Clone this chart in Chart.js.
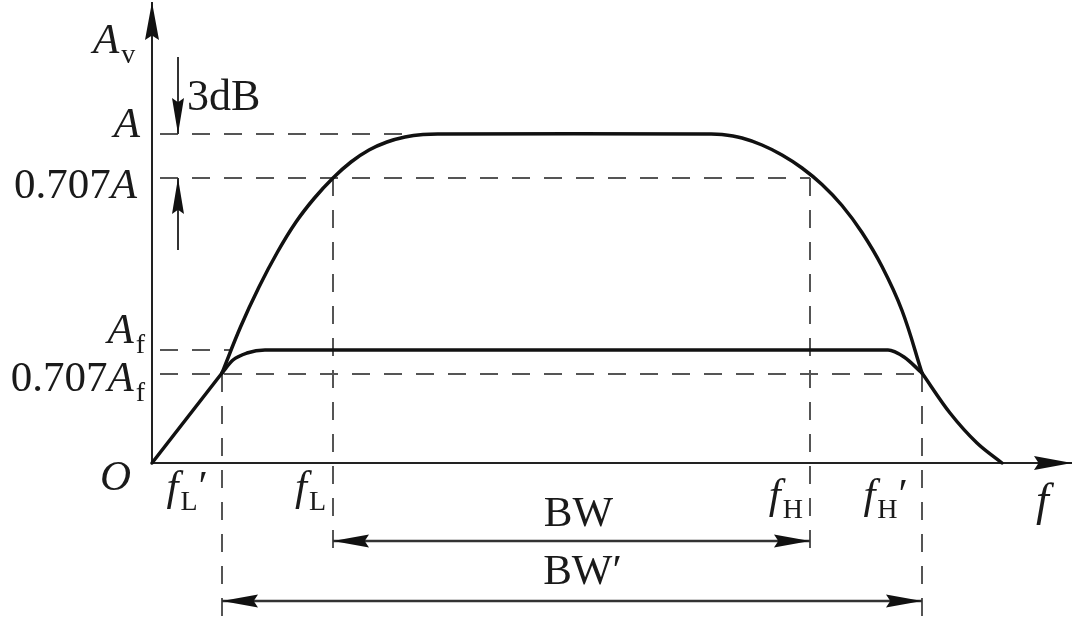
<!DOCTYPE html>
<html>
<head>
<meta charset="utf-8">
<script src="https://cdn.jsdelivr.net/npm/chart.js@4.4.0/dist/chart.umd.min.js"></script>
<style>
  html, body { margin: 0; padding: 0; background: #fff; }
</style>
</head>
<body>
<canvas id="chart" width="1080" height="622"></canvas>
<script>
// open-loop response (A)
const bigX = [70, 88.5, 107, 125.5, 144, 162.5, 181, 199, 217, 235, 253, 271, 289, 555, 570, 590, 610, 630, 650, 670, 690, 710, 730, 750, 770];
const bigY = [90, 136, 176, 211, 241, 265, 285, 301, 313, 321, 326, 328.5, 329, 329, 328.5, 325, 318, 308, 295, 278.5, 257.5, 230.5, 196.5, 152.5, 90];
// closed-loop response (Af), shares the two skirts with the open-loop curve
const baseX = [0, 70];
const baseY = [0, 90];
const smallX = [70, 81, 95, 113, 736, 752, 770];
const smallY = [90, 103, 110, 113, 113, 106, 90];
const tailX = [770, 798, 825, 850];
const tailY = [90, 50, 20, 0];

// gain levels and where their dashed guide ends
const levelLabels = ['A', '0.707A', 'A_f', '0.707A_f'];
const levelY = [329, 285, 113, 89];
const levelEndX = [250, 658, 78, 770];

// corner frequencies
const freqLabels = ['f_L′', 'f_L', 'f_H', 'f_H′'];
const freqX = [70, 181, 658, 770];
const freqTopY = [89, 285, 285, 89];
const freqBottomY = [-155, -96, -96, -155];

// bandwidth dimension lines
const bwLabels = ['BW', 'BW′'];
const bwFrom = [181, 70];
const bwTo = [658, 770];
const bwY = [-78, -138];

const SERIF = '"Liberation Serif", "DejaVu Serif", serif';

function pts(xs, ys) {
    return xs.map((x, i) => ({ x: x, y: ys[i] }));
}

function curve(xs, ys, mode) {
    return {
        data: pts(xs, ys),
        showLine: true,
        borderColor: '#111',
        borderWidth: 3.5,
        pointRadius: 0,
        tension: mode ? 0.4 : 0,
        cubicInterpolationMode: mode === 'monotone' ? 'monotone' : 'default',
        borderCapStyle: 'round',
        borderJoinStyle: 'round'
    };
}

function guide(a, b) {
    return {
        data: [a, b],
        showLine: true,
        borderColor: '#555',
        borderWidth: 2,
        borderDash: [18, 14],
        pointRadius: 0,
        tension: 0
    };
}

const datasets = [
    curve(bigX, bigY, 'spline'),
    curve(smallX, smallY, 'monotone'),
    curve(tailX, tailY, 'monotone'),
    curve(baseX, baseY, null)
];
levelY.forEach((v, i) => datasets.push(guide({ x: 8, y: v }, { x: levelEndX[i], y: v })));
freqX.forEach((f, i) => datasets.push(guide({ x: f, y: freqTopY[i] }, { x: f, y: freqBottomY[i] })));

// text like "0.707A_f" : letters italic, after "_" roman subscript
function parts(str, roman, size) {
    const out = [];
    let sub = false;
    for (const ch of str) {
        if (ch === '_') { sub = true; continue; }
        if (ch === '′') { sub = false; out.push({ t: ch, font: size + 'px ' + SERIF, dy: 0 }); continue; }
        if (sub) {
            out.push({ t: ch, font: Math.round(size * 0.64) + 'px ' + SERIF, dy: 10, pad: 1 });
        } else {
            const it = !roman && /[A-Za-z]/.test(ch);
            out.push({ t: ch, font: (it ? 'italic ' : '') + size + 'px ' + SERIF, dy: 0, pad: it ? 2 : 0 });
        }
    }
    return out;
}

function drawText(ctx, str, px, py, align, roman, size) {
    const ps = parts(str, roman, size || 43);
    let w = 0;
    ps.forEach(p => { ctx.font = p.font; p.w = ctx.measureText(p.t).width + (p.pad || 0); w += p.w; });
    let cx = align === 'right' ? px - w : align === 'center' ? px - w / 2 : px;
    ctx.textAlign = 'left';
    ctx.textBaseline = 'alphabetic';
    ps.forEach(p => { ctx.font = p.font; ctx.fillText(p.t, cx, py + p.dy); cx += p.w; });
}

function head(ctx, tx, ty, dx, dy, len, half) {
    const bx = tx - dx * len, by = ty - dy * len;
    ctx.beginPath();
    ctx.moveTo(tx, ty);
    ctx.lineTo(bx - dy * half, by + dx * half);
    ctx.lineTo(bx + dx * len * 0.12, by + dy * len * 0.12);
    ctx.lineTo(bx + dy * half, by - dx * half);
    ctx.closePath();
    ctx.fill();
}

function arrowLine(ctx, x1, y1, x2, y2, both, len, half) {
    ctx.beginPath();
    ctx.moveTo(x1, y1);
    ctx.lineTo(x2, y2);
    ctx.stroke();
    const L = Math.hypot(x2 - x1, y2 - y1);
    const dx = (x2 - x1) / L, dy = (y2 - y1) / L;
    head(ctx, x2, y2, dx, dy, len || 34, half || 6);
    if (both) head(ctx, x1, y1, -dx, -dy, len || 34, half || 6);
}

const diagram = {
    id: 'diagram',
    beforeDatasetsDraw(chart) {
        const { ctx, scales: { x, y } } = chart;
        const ox = x.getPixelForValue(0), oy = y.getPixelForValue(0);
        ctx.save();
        ctx.strokeStyle = '#222';
        ctx.fillStyle = '#111';
        ctx.lineWidth = 2;
        arrowLine(ctx, ox, oy, x.getPixelForValue(920), oy, false, 38, 7);
        arrowLine(ctx, ox, oy, ox, y.getPixelForValue(461), false, 38, 7);
        ctx.restore();
    },
    afterDraw(chart) {
        const { ctx, scales: { x, y } } = chart;
        ctx.save();
        ctx.fillStyle = '#111';
        ctx.strokeStyle = '#333';
        ctx.lineWidth = 2;

        // 3 dB drop markers
        const ax = x.getPixelForValue(26);
        arrowLine(ctx, ax, y.getPixelForValue(406), ax, y.getPixelForValue(levelY[0]), false, 36, 6);
        arrowLine(ctx, ax, y.getPixelForValue(213), ax, y.getPixelForValue(levelY[1]), false, 36, 6);

        // bandwidth arrows
        ctx.lineWidth = 2.5;
        bwY.forEach((v, i) => {
            const py = y.getPixelForValue(v);
            arrowLine(ctx, x.getPixelForValue(bwFrom[i]), py, x.getPixelForValue(bwTo[i]), py, true, 36, 6.5);
        });

        ctx.fillStyle = '#1a1a1a';
        drawText(ctx, 'A_v', x.getPixelForValue(-59), y.getPixelForValue(410), 'left');
        drawText(ctx, '3dB', x.getPixelForValue(35), y.getPixelForValue(353), 'left', true, 44);
        drawText(ctx, 'O', x.getPixelForValue(-52), y.getPixelForValue(-27), 'left');
        drawText(ctx, 'f', x.getPixelForValue(884), y.getPixelForValue(-52), 'left', false, 46);

        const levelDy = [-3, -20, 7, -17];
        const levelRight = [-10, -13, -6, -6];
        levelLabels.forEach((s, i) => {
            drawText(ctx, s, x.getPixelForValue(levelRight[i]), y.getPixelForValue(levelY[i] + levelDy[i]), 'right');
        });

        const freqBase = [-37, -37, -45, -45];
        freqLabels.forEach((s, i) => {
            const right = s.endsWith('′') ? 14 : 6;
            drawText(ctx, s, x.getPixelForValue(freqX[i] - right), y.getPixelForValue(freqBase[i]), 'right');
        });

        const bwText = [15, 17];
        bwLabels.forEach((s, i) => {
            const mid = (bwFrom[0] + bwTo[0]) / 2;
            drawText(ctx, s, x.getPixelForValue(mid + (i ? 11 : 7)), y.getPixelForValue(bwY[i] + bwText[i]), 'center', true);
        });
        ctx.restore();
    }
};

new Chart(document.getElementById('chart'), {
    type: 'scatter',
    data: { datasets: datasets },
    options: {
        responsive: false,
        animation: false,
        devicePixelRatio: 1,
        layout: { padding: 0 },
        plugins: { legend: { display: false }, tooltip: { enabled: false } },
        scales: {
            x: { type: 'linear', min: -152, max: 928, display: false },
            y: { type: 'linear', min: -159, max: 463, display: false }
        }
    },
    plugins: [diagram]
});
</script>
</body>
</html>
